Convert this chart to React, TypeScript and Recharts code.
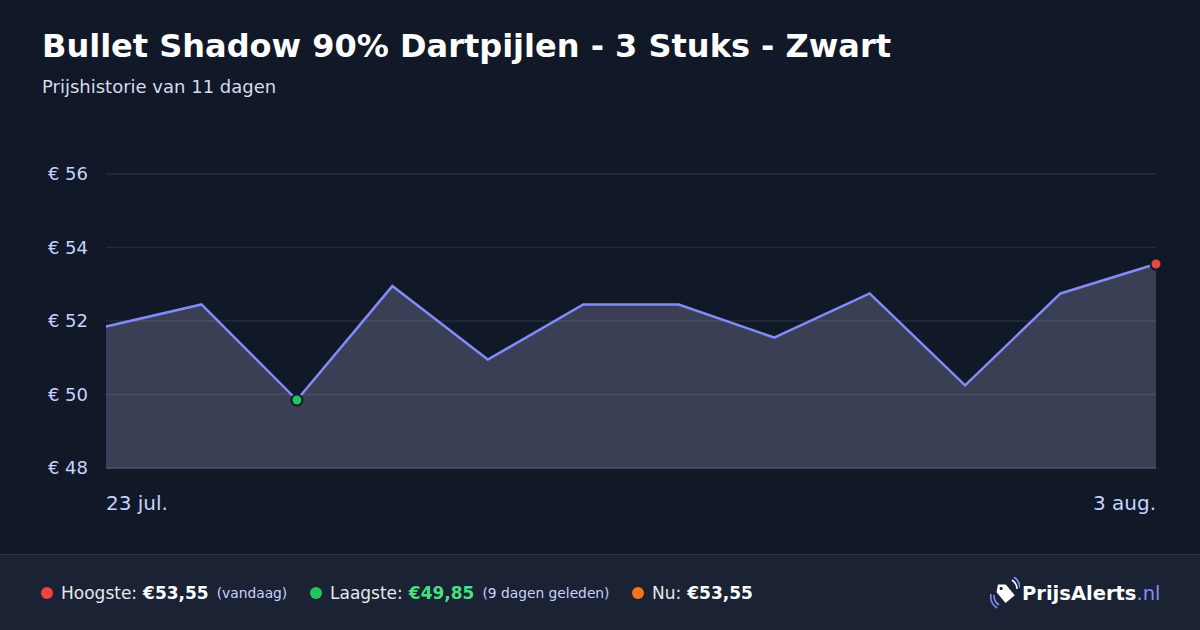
import { Area, AreaChart, CartesianGrid, XAxis, YAxis } from 'recharts';

const dates = [
  '23 jul.', '24 jul.', '25 jul.', '26 jul.', '27 jul.', '28 jul.',
  '29 jul.', '30 jul.', '31 jul.', '1 aug.', '2 aug.', '3 aug.',
];
const prices = [51.85, 52.45, 49.85, 52.95, 50.95, 52.45, 52.45, 51.55, 52.75, 50.25, 52.75, 53.55];
const yTicks = [48, 50, 52, 54, 56];
const xTicks = ['23 jul.', '3 aug.'];

const FONT = '"DejaVu Sans", sans-serif';
const LOW_IDX = prices.indexOf(Math.min(...prices));
const HIGH_IDX = prices.lastIndexOf(Math.max(...prices));

const data = dates.map((d, i) => ({ date: d, price: prices[i] }));

function PriceDot(props: any) {
  const { cx, cy, index } = props;
  if (index === LOW_IDX) {
    return <circle key={`d${index}`} cx={cx} cy={cy} r={5.5} fill="#22c55e" stroke="#111827" strokeWidth={2} />;
  }
  if (index === HIGH_IDX) {
    return <circle key={`d${index}`} cx={cx} cy={cy} r={5.5} fill="#ef4444" stroke="#111827" strokeWidth={2} />;
  }
  return <g key={`d${index}`} />;
}

function DateTick(props: any) {
  const { x, y, payload, index } = props;
  return (
    <text
      x={x}
      y={y + 42}
      textAnchor={index === 0 ? 'start' : 'end'}
      fill="#c7d2fe"
      fontSize={20}
      fontFamily={FONT}
    >
      {payload.value}
    </text>
  );
}

function Stat({ color, label, value, valueColor, note, left }: any) {
  return (
    <div style={{ position: 'absolute', left, top: 0, height: 76, display: 'flex', alignItems: 'center', whiteSpace: 'nowrap' }}>
      <span style={{ width: 12, height: 12, borderRadius: 6, background: color, marginRight: 8 }} />
      <span style={{ color: '#e5e7eb', fontSize: 17 }}>{label}</span>
      <span style={{ color: valueColor, fontSize: 17, fontWeight: 'bold', marginLeft: 6 }}>{value}</span>
      {note && <span style={{ color: '#c7d2fe', fontSize: 13.8, marginLeft: 8 }}>{note}</span>}
    </div>
  );
}

export default function App() {
  return (
    <div style={{ position: 'absolute', left: 0, top: 0, width: 1200, height: 630, background: '#111827', fontFamily: FONT, overflow: 'hidden' }}>
      <div style={{ position: 'absolute', left: 42, top: 27, color: '#ffffff', fontSize: 32, fontWeight: 'bold', whiteSpace: 'nowrap' }}>
        Bullet Shadow 90% Dartpijlen - 3 Stuks - Zwart
      </div>
      <div style={{ position: 'absolute', left: 42, top: 76, color: '#d6dbef', fontSize: 18, whiteSpace: 'nowrap' }}>
        Prijshistorie van 11 dagen
      </div>

      <div style={{ position: 'absolute', left: 0, top: 0 }}>
        <AreaChart width={1200} height={540} data={data} margin={{ top: 174, right: 44, left: 0, bottom: 22 }}>
          <CartesianGrid vertical={false} stroke="#252c3b" strokeWidth={1.5} />
          <XAxis
            dataKey="date"
            ticks={xTicks}
            interval={0}
            tick={<DateTick />}
            tickLine={false}
            tickSize={0}
            tickMargin={0}
            height={50}
            axisLine={{ stroke: '#4b5160', strokeWidth: 1.5 }}
          />
          <YAxis
            domain={[48, 56]}
            ticks={yTicks}
            width={106}
            tickFormatter={(v) => `€ ${v}`}
            tick={{ fill: '#c7d2fe', fontSize: 18, fontFamily: FONT }}
            tickLine={false}
            tickSize={0}
            tickMargin={18}
            axisLine={false}
          />
          <Area
            type="linear"
            dataKey="price"
            stroke="#818cf8"
            strokeWidth={2.5}
            fill="rgb(154,154,192)"
            fillOpacity={0.3}
            dot={<PriceDot />}
            activeDot={false}
            baseValue={48}
            isAnimationActive={false}
          />
        </AreaChart>
      </div>

      <div style={{ position: 'absolute', left: 0, top: 554, width: 1200, height: 76, background: '#1a2233', borderTop: '1px solid #2a3456' }}>
        <Stat left={41} color="#ef4444" label="Hoogste:" value="€53,55" valueColor="#ffffff" note="(vandaag)" />
        <Stat left={310} color="#22c55e" label="Laagste:" value="€49,85" valueColor="#4ade80" note="(9 dagen geleden)" />
        <Stat left={632} color="#f97316" label="Nu:" value="€53,55" valueColor="#ffffff" />
        <div style={{ position: 'absolute', left: 990, top: 0, height: 76, display: 'flex', alignItems: 'center', whiteSpace: 'nowrap' }}>
          <svg width={30} height={32} viewBox="0 0 30 32" style={{ marginRight: 2 }}>
            <g transform="rotate(-40 15 16)">
              <path d="M9 10 L15 5 L21 10 L21 24 L9 24 Z" fill="#ffffff" />
              <circle cx={15} cy={10} r={1.6} fill="#1a2233" />
            </g>
            <path d="M4 18 A11 11 0 0 0 9 28" stroke="#818cf8" strokeWidth={1.6} fill="none" />
            <path d="M1 17 A14 14 0 0 0 7 31" stroke="#818cf8" strokeWidth={1.6} fill="none" />
            <path d="M22 3 A11 11 0 0 1 27 12" stroke="#ffffff" strokeWidth={1.6} fill="none" />
            <path d="M24 0 A14 14 0 0 1 30 11" stroke="#818cf8" strokeWidth={1.6} fill="none" />
          </svg>
          <span style={{ color: '#ffffff', fontSize: 19.5, fontWeight: 'bold' }}>PrijsAlerts</span>
          <span style={{ color: '#818cf8', fontSize: 19.5 }}>.nl</span>
        </div>
      </div>
    </div>
  );
}
